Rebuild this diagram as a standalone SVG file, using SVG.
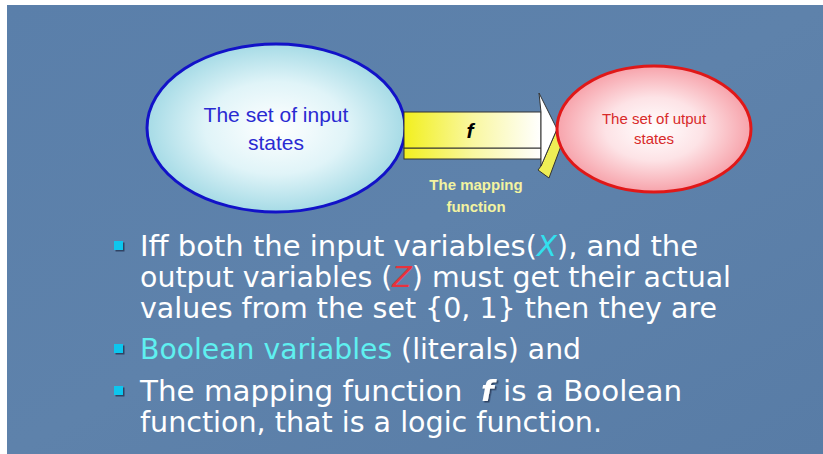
<svg xmlns="http://www.w3.org/2000/svg" width="823" height="454" viewBox="0 0 823 454">
<defs>
<radialGradient id="gBlue" cx="0.5" cy="0.5" r="0.5">
<stop offset="0" stop-color="#ffffff"/>
<stop offset="0.55" stop-color="#e0f4f8"/>
<stop offset="1" stop-color="#a6dbe6"/>
</radialGradient>
<radialGradient id="gRed" cx="0.5" cy="0.5" r="0.5">
<stop offset="0" stop-color="#ffffff"/>
<stop offset="0.5" stop-color="#fde3e6"/>
<stop offset="1" stop-color="#f7a3ab"/>
</radialGradient>
<linearGradient id="gShaft" x1="0" y1="0" x2="1" y2="0">
<stop offset="0" stop-color="#f2f01e"/>
<stop offset="0.5" stop-color="#f9f7a0"/>
<stop offset="1" stop-color="#ffffff"/>
</linearGradient>
<linearGradient id="gBg" x1="0" y1="0" x2="1" y2="1">
<stop offset="0" stop-color="#5a7faa"/>
<stop offset="0.5" stop-color="#5e82ab"/>
<stop offset="1" stop-color="#587ca6"/>
</linearGradient>
<filter id="sh" x="-10%" y="-10%" width="130%" height="130%">
<feDropShadow dx="1.5" dy="1.5" stdDeviation="0.6" flood-color="#1c2c44" flood-opacity="0.7"/>
</filter>
</defs>
<style>
.body{font-family:"DejaVu Sans","Liberation Sans",sans-serif;font-size:28px;fill:#ffffff}
.bullet{fill:#11c6ee}
.lab{font-family:"Liberation Sans",Arial,sans-serif;text-anchor:middle}
</style>
<rect x="0" y="0" width="823" height="454" fill="#ffffff"/>
<rect x="7" y="5" width="816" height="449" fill="url(#gBg)"/>

<g id="input-set">
<ellipse cx="276" cy="128" rx="129" ry="84" fill="url(#gBlue)" stroke="#1212c8" stroke-width="3"/>
<text class="lab" x="276" y="122" font-size="21" fill="#2a2ad2">The set of input</text>
<text class="lab" x="276" y="150" font-size="21" fill="#2a2ad2">states</text>
</g>

<g id="connectors">
<g id="mapping-arrow">
<rect x="404" y="148" width="137" height="11" fill="url(#gShaft)" stroke="#333333" stroke-width="1"/>
<rect x="404" y="112" width="137" height="36" fill="url(#gShaft)" stroke="#333333" stroke-width="1"/>
<polygon points="557,129 564,138 549,178 538,170 541,166" fill="#eeee55" stroke="#333333" stroke-width="1"/>
<polygon points="541,112 539,93 557,129 541,166 541,148" fill="#ffffff" stroke="#333333" stroke-width="1"/>
<text x="470" y="138" font-family="'Liberation Sans',Arial,sans-serif" font-size="21" font-weight="bold" font-style="italic" fill="#000000" text-anchor="middle">f</text>
</g>
<text class="lab" x="476" y="190" font-size="15" font-weight="bold" fill="#f3f3a0">The mapping</text>
<text class="lab" x="476" y="212" font-size="15" font-weight="bold" fill="#f3f3a0">function</text>
</g>

<g id="output-set">
<ellipse cx="654" cy="129" rx="97" ry="63" fill="url(#gRed)" stroke="#e01818" stroke-width="3"/>
<text class="lab" x="654" y="124" font-size="15" fill="#d82a2a">The set of utput</text>
<text class="lab" x="654" y="144" font-size="15" fill="#d82a2a">states</text>
</g>

<g id="bullets">
<rect class="bullet" x="114" y="241" width="9" height="9" filter="url(#sh)"/>
<rect class="bullet" x="114" y="344" width="9" height="9" filter="url(#sh)"/>
<rect class="bullet" x="114" y="386" width="9" height="9" filter="url(#sh)"/>
<text class="body" x="140" y="256" textLength="558" lengthAdjust="spacingAndGlyphs">Iff both the input variables(<tspan fill="#33e0ee" font-style="italic">X</tspan>), and the</text>
<text class="body" x="140" y="287" textLength="591" lengthAdjust="spacingAndGlyphs">output variables (<tspan fill="#e8323c" font-style="italic">Z</tspan>) must get their actual</text>
<text class="body" x="140" y="318" textLength="577" lengthAdjust="spacingAndGlyphs">values from the set {0, 1} then they are</text>
<text class="body" x="140" y="359" textLength="441" lengthAdjust="spacingAndGlyphs"><tspan fill="#5ff0f0">Boolean variables</tspan> (literals) and</text>
<text class="body" x="140" y="401" textLength="542" lengthAdjust="spacingAndGlyphs" xml:space="preserve">The mapping function  <tspan font-weight="bold" font-style="italic" filter="url(#sh)">f</tspan> is a Boolean</text>
<text class="body" x="140" y="432" textLength="462" lengthAdjust="spacingAndGlyphs">function, that is a logic function.</text>
</g>
</svg>
